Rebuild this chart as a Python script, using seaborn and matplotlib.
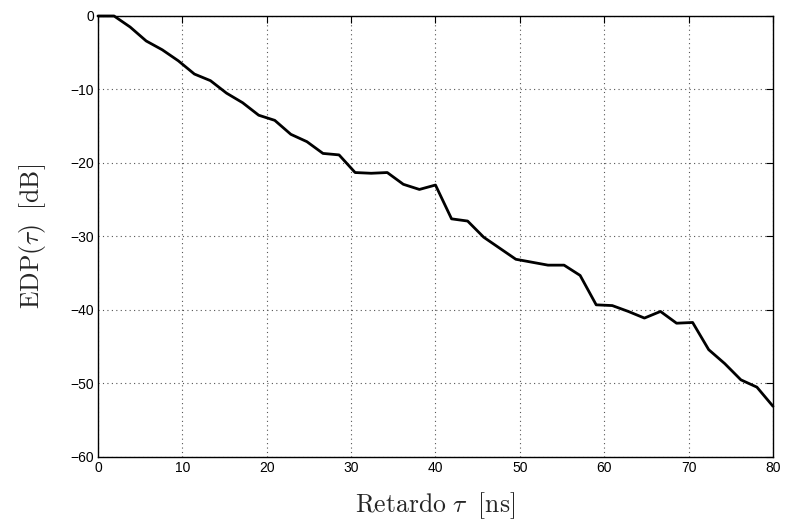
import numpy as np
import pandas as pd
import matplotlib
matplotlib.use("Agg")
import matplotlib.pyplot as plt
import seaborn as sns

# Data
delay_ns = [i * 80 / 42 for i in range(43)]
edp_db = [0.0, 0.0, -1.5, -3.4, -4.6, -6.1, -7.9, -8.8, -10.5, -11.8,
          -13.5, -14.2, -16.1, -17.1, -18.7, -18.9, -21.3, -21.4, -21.3, -22.9,
          -23.6, -23.0, -27.6, -27.9, -30.1, -31.6, -33.1, -33.5, -33.9, -33.9,
          -35.3, -39.3, -39.4, -40.2, -41.1, -40.2, -41.8, -41.7, -45.4, -47.3,
          -49.5, -50.5, -53.1]
x_ticks = [0, 10, 20, 30, 40, 50, 60, 70, 80]
y_ticks = [-60, -50, -40, -30, -20, -10, 0]

df = pd.DataFrame({"delay": delay_ns, "edp": edp_db})

sns.set_theme(style="white")
plt.rcParams["font.family"] = ["Liberation Sans", "DejaVu Sans"]
plt.rcParams["mathtext.fontset"] = "cm"

fig = plt.figure(figsize=(7.85, 5.24), dpi=100)
ax = fig.add_axes([0.1248, 0.1279, 0.8599, 0.8416])

sns.lineplot(data=df, x="delay", y="edp", color="black", linewidth=2.0, ax=ax,
             clip_on=False, zorder=5)

ax.set_xlim(0, 80)
ax.set_ylim(-60, 0)
ax.set_xticks(x_ticks)
ax.set_yticks(y_ticks)
ax.set_xticklabels([str(t) for t in x_ticks])
ax.set_yticklabels([str(t).replace("-", "\u2212") for t in y_ticks])

ax.grid(True, linestyle=(0, (1, 3)), color="#555555", linewidth=0.8)
for s in ax.spines.values():
    s.set_color("black")
    s.set_linewidth(1.0)
ax.tick_params(direction="in", length=5, width=0.8, colors="black",
               top=True, right=True, labelsize=10, pad=3)

ax.set_xlabel(r"$\mathrm{Retardo}\ \tau\;\ [\mathrm{ns}]$", fontsize=18.5, labelpad=11)
ax.set_ylabel(r"$\mathrm{EDP}(\tau)\;\ [\mathrm{dB}]$", fontsize=18.5, labelpad=16)

fig.savefig("out.png", dpi=100, facecolor="white")
